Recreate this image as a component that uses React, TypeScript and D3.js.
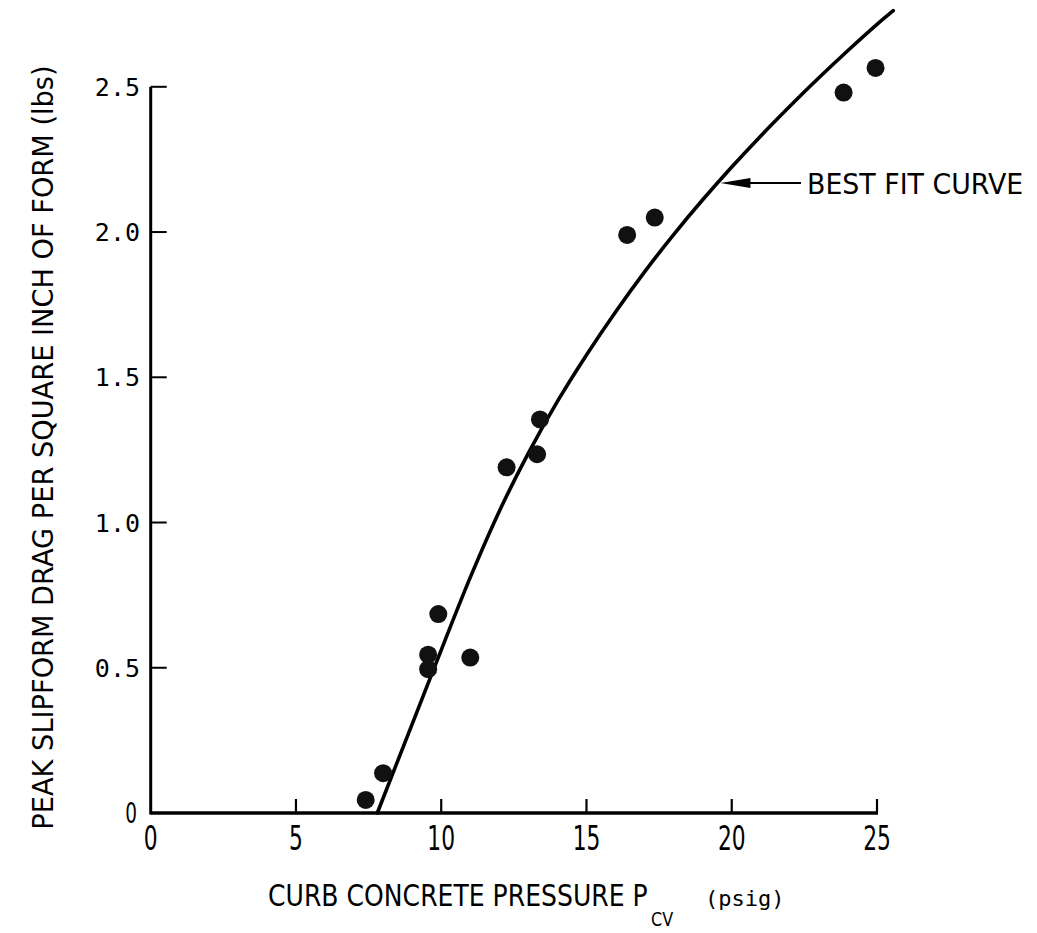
import React from "react";
import * as d3 from "d3";

const xTicks = [0, 5, 10, 15, 20, 25];
const yTicks = [0, 0.5, 1.0, 1.5, 2.0, 2.5];
const yTickLabels = ["0", "0.5", "1.0", "1.5", "2.0", "2.5"];

const pointsX = [7.4, 8.0, 9.55, 9.55, 9.9, 11.0, 12.25, 13.3, 13.4, 16.4, 17.35, 23.85, 24.95];
const pointsY = [0.045, 0.137, 0.545, 0.495, 0.685, 0.535, 1.19, 1.235, 1.355, 1.99, 2.05, 2.48, 2.565];

const curveX = [7.8, 9, 10, 11, 12, 13, 14, 15, 16, 17, 18, 19, 20, 21, 22, 23, 24, 25, 25.56];
const curveY = [0, 0.306, 0.561, 0.811, 1.039, 1.239, 1.417, 1.577, 1.725, 1.863, 1.991, 2.111, 2.224, 2.331, 2.433, 2.531, 2.625, 2.715, 2.762];

const xTitle = "CURB CONCRETE PRESSURE P";
const xTitleSub = "CV";
const xTitleUnit = "(psig)";
const yTitle = "PEAK SLIPFORM DRAG PER SQUARE INCH OF FORM (lbs)";
const annotation = "BEST FIT CURVE";

const W = 1037;
const H = 933;
const X0 = 150.7;
const X1 = 877;
const Y0 = 813;
const Y1 = 86.8;

const SANS = "DejaVu Sans";
const MONO = "DejaVu Sans Mono";

function Narrow({ x, y, size, sx, anchor, rotate = 0, family = SANS, children }: any) {
  return (
    <g transform={`translate(${x},${y}) rotate(${rotate}) scale(${sx},1)`}>
      <text fontFamily={family} fontSize={size} textAnchor={anchor || "start"} fill="#000">
        {children}
      </text>
    </g>
  );
}

export default function App() {
  const x = d3.scaleLinear().domain([0, 25]).range([X0, X1]);
  const y = d3.scaleLinear().domain([0, 2.5]).range([Y0, Y1]);

  const curvePts: [number, number][] = curveX.map((v, i) => [v, curveY[i]]);
  const line = d3
    .line<[number, number]>()
    .x((d) => x(d[0]))
    .y((d) => y(d[1]))
    .curve(d3.curveCatmullRom.alpha(0.5));

  const ann = { x: 19.61, y: 2.172 };
  const tipX = x(ann.x);
  const tipY = y(ann.y) + 1;

  return (
    <svg
      width={W}
      height={H}
      style={{ position: "absolute", left: 0, top: 0, background: "#fff" }}
    >
      <rect x={0} y={0} width={W} height={H} fill="#fff" />
      {/* axes */}
      <line x1={X0} y1={Y0} x2={X1 + 1} y2={Y0} stroke="#000" strokeWidth={3.3} />
      <line x1={X0} y1={Y0 + 1.5} x2={X0} y2={y(2.5)} stroke="#000" strokeWidth={3} />
      {xTicks.filter((t) => t > 0).map((t) => (
        <line key={"xt" + t} x1={x(t)} x2={x(t)} y1={Y0} y2={Y0 - 14} stroke="#000" strokeWidth={2.2} />
      ))}
      {yTicks.filter((t) => t > 0).map((t) => (
        <line key={"yt" + t} x1={X0} x2={X0 + 16} y1={y(t)} y2={y(t)} stroke="#000" strokeWidth={2} />
      ))}
      {/* x tick labels */}
      {xTicks.map((t) => (
        <Narrow key={"xl" + t} x={x(t)} y={850} size={33} sx={0.66} anchor="middle">
          {String(t)}
        </Narrow>
      ))}
      {/* y tick labels */}
      {yTicks.map((t, i) =>
        t === 0 ? (
          <Narrow key={"yl" + t} x={137} y={y(t) + 10} size={28} sx={0.66} anchor="end">
            {yTickLabels[i]}
          </Narrow>
        ) : (
          <text
            key={"yl" + t}
            x={140}
            y={y(t) + 9}
            fontFamily={MONO}
            fontSize={25}
            textAnchor="end"
            fill="#000"
          >
            {yTickLabels[i]}
          </text>
        )
      )}
      {/* curve */}
      <path d={line(curvePts) || ""} fill="none" stroke="#000" strokeWidth={3.6} strokeLinecap="round" />
      {/* points */}
      {pointsX.map((v, i) => (
        <circle key={"p" + i} cx={x(v)} cy={y(pointsY[i])} r={9} fill="#111" />
      ))}
      {/* annotation */}
      <line x1={tipX + 26} y1={tipY} x2={801} y2={tipY} stroke="#000" strokeWidth={2} />
      <polygon
        points={`${tipX},${tipY} ${tipX + 30},${tipY - 5} ${tipX + 30},${tipY + 5}`}
        fill="#000"
      />
      <Narrow x={807} y={194} size={29} sx={0.925}>
        {annotation}
      </Narrow>
      {/* x title */}
      <Narrow x={268} y={906} size={30} sx={0.837}>
        {xTitle}
      </Narrow>
      <Narrow x={651} y={926} size={20} sx={0.8}>
        {xTitleSub}
      </Narrow>
      <text x={705} y={906} fontFamily={MONO} fontSize={22} fill="#000">
        {xTitleUnit}
      </text>
      {/* y title */}
      <Narrow x={53} y={447.5} size={27.5} sx={0.99} rotate={-90} anchor="middle">
        {yTitle}
      </Narrow>
    </svg>
  );
}
